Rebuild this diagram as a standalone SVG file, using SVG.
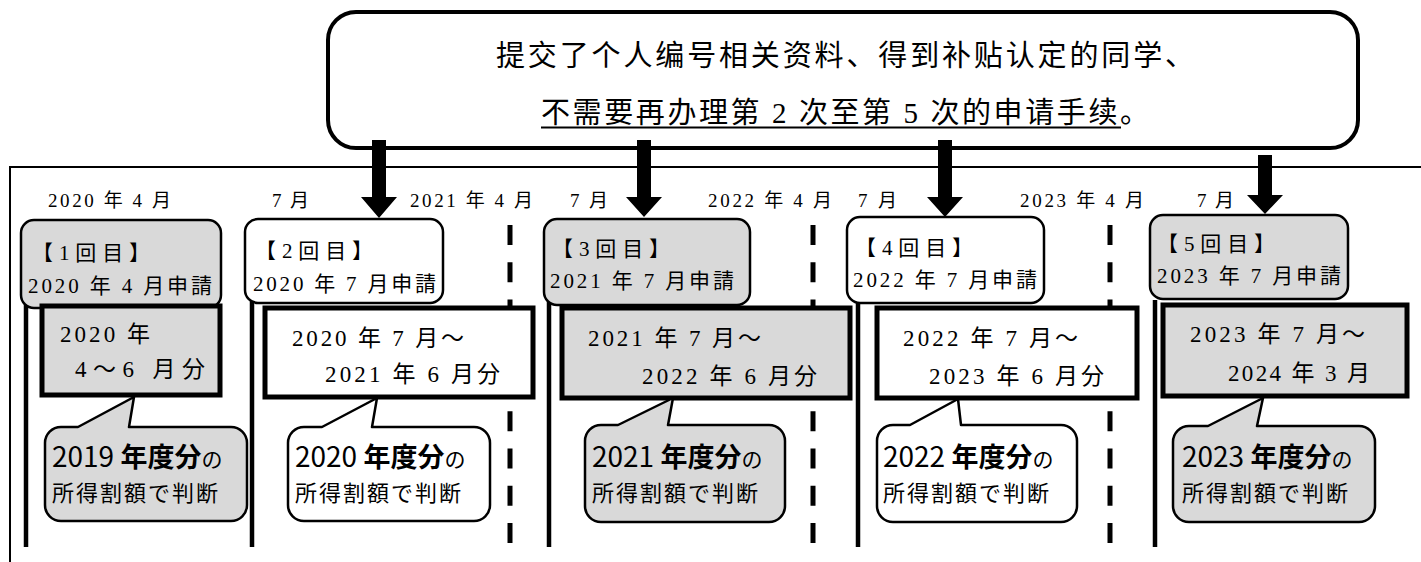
<svg xmlns="http://www.w3.org/2000/svg" width="1421" height="562" viewBox="0 0 1421 562">
<style>
.bg{fill:#ffffff}
.frame{fill:none;stroke:#000;stroke-width:2}
.solid{stroke:#000;stroke-width:4.5}
.dash{stroke:#000;stroke-width:5;stroke-dasharray:20 17.25}
.callout{fill:#fff;stroke:#000;stroke-width:4}
.arrow{fill:#000;stroke:none}
.app{stroke:#000;stroke-width:2.5}
.per{stroke:#000;stroke-width:5}
.bub{stroke:#000;stroke-width:2.5;stroke-linejoin:round}
.gray{fill:#d9d9d9}
.white{fill:#ffffff}
text{fill:#000}
.m{font-family:"Liberation Serif","Noto Sans CJK JP",serif;font-size:19px}
.t{font-family:"Liberation Serif","Noto Sans CJK JP",serif;font-size:21px}
.p{font-family:"Liberation Serif","Noto Sans CJK JP",serif;font-size:23px}
.c{font-family:"Liberation Serif","Noto Sans CJK SC",serif;font-size:29px}
.yr{font-family:"Noto Sans CJK JP","Liberation Sans",sans-serif;font-size:28px}
.bd{font-family:"Noto Sans CJK JP",sans-serif;font-size:27px;font-weight:bold}
.no{font-family:"Noto Sans CJK JP",sans-serif;font-size:21px}
.jd{font-family:"Noto Sans CJK JP",sans-serif;font-size:22px}
</style>
<rect class="bg" x="0" y="0" width="1421" height="562"/>

<g id="timeline">
  <path class="frame" d="M10,562 V167 H1421"/>
  <line class="dash" x1="510" y1="225" x2="510" y2="545"/>
  <line class="dash" x1="813" y1="225" x2="813" y2="545"/>
  <line class="dash" x1="1110" y1="225" x2="1110" y2="545"/>
  <line class="solid" x1="26" y1="300" x2="26" y2="547"/>
  <line class="solid" x1="252" y1="300" x2="252" y2="547"/>
  <line class="solid" x1="549" y1="300" x2="549" y2="547"/>
  <line class="solid" x1="858" y1="300" x2="858" y2="547"/>
  <line class="solid" x1="1155" y1="300" x2="1155" y2="547"/>
</g>

<g id="month-labels">
  <text class="m" x="48" y="207" textLength="123" lengthAdjust="spacing">2020 年 4 月</text>
  <text class="m" x="272" y="207" textLength="37" lengthAdjust="spacing">7 月</text>
  <text class="m" x="410" y="207" textLength="123" lengthAdjust="spacing">2021 年 4 月</text>
  <text class="m" x="570" y="207" textLength="38" lengthAdjust="spacing">7 月</text>
  <text class="m" x="708" y="207" textLength="124" lengthAdjust="spacing">2022 年 4 月</text>
  <text class="m" x="858" y="207" textLength="39" lengthAdjust="spacing">7 月</text>
  <text class="m" x="1020" y="207" textLength="124" lengthAdjust="spacing">2023 年 4 月</text>
  <text class="m" x="1197" y="207" textLength="37" lengthAdjust="spacing">7 月</text>
</g>

<g id="note">
  <rect class="callout" x="328" y="12" width="1030" height="136" rx="28" ry="28"/>
  <text class="c" x="496" y="66" textLength="698" lengthAdjust="spacing">提交了个人编号相关资料、得到补贴认定的同学、</text>
  <text class="c" x="541" y="123" textLength="608" lengthAdjust="spacing">不需要再办理第 2 次至第 5 次的申请手续。</text>
  <line x1="541" y1="127.5" x2="1121" y2="127.5" stroke="#000" stroke-width="2"/>
</g>

<g id="connectors">
  <path class="arrow" d="M372,140 H386 V197 H397 L379,218 L361,197 H372 Z"/>
  <path class="arrow" d="M637,140 H651 V197 H662 L644,217 L626,197 H637 Z"/>
  <path class="arrow" d="M938,140 H952 V197 H963 L945,217 L927,197 H938 Z"/>
  <path class="arrow" d="M1258,155 H1272 V195 H1283 L1265,214 L1247,195 H1258 Z"/>
</g>

<g id="app1">
  <rect class="app gray" x="21" y="220" width="200" height="88" rx="13"/>
  <text class="t" x="32" y="260" textLength="118" lengthAdjust="spacing">【1回目】</text>
  <text class="t" x="28" y="293" textLength="184" lengthAdjust="spacing">2020 年 4 月申請</text>
</g>
<g id="app2">
  <rect class="app white" x="245" y="219" width="198" height="84" rx="13"/>
  <text class="t" x="255" y="258" textLength="118" lengthAdjust="spacing">【2回目】</text>
  <text class="t" x="253" y="291" textLength="183" lengthAdjust="spacing">2020 年 7 月申請</text>
</g>
<g id="app3">
  <rect class="app gray" x="544" y="219" width="206" height="86" rx="13"/>
  <text class="t" x="552" y="256" textLength="118" lengthAdjust="spacing">【3回目】</text>
  <text class="t" x="550" y="288" textLength="184" lengthAdjust="spacing">2021 年 7 月申請</text>
</g>
<g id="app4">
  <rect class="app white" x="847" y="217" width="197" height="86" rx="13"/>
  <text class="t" x="855" y="255" textLength="118" lengthAdjust="spacing">【4回目】</text>
  <text class="t" x="853" y="287" textLength="184" lengthAdjust="spacing">2022 年 7 月申請</text>
</g>
<g id="app5">
  <rect class="app gray" x="1150" y="215" width="198" height="84" rx="13"/>
  <text class="t" x="1157" y="251" textLength="118" lengthAdjust="spacing">【5回目】</text>
  <text class="t" x="1157" y="283" textLength="184" lengthAdjust="spacing">2023 年 7 月申請</text>
</g>

<g id="period1">
  <rect class="per gray" x="42" y="306" width="178" height="89"/>
  <text class="p" x="60" y="342" textLength="90" lengthAdjust="spacing">2020 年</text>
  <text class="p" x="75" y="377" textLength="130" lengthAdjust="spacing">4～6 月分</text>
</g>
<g id="period2">
  <rect class="per white" x="265" y="308" width="268" height="89"/>
  <text class="p" x="292" y="346" textLength="172" lengthAdjust="spacing">2020 年 7 月～</text>
  <text class="p" x="325" y="382" textLength="175" lengthAdjust="spacing">2021 年 6 月分</text>
</g>
<g id="period3">
  <rect class="per gray" x="562" y="308" width="288" height="90"/>
  <text class="p" x="588" y="346" textLength="173" lengthAdjust="spacing">2021 年 7 月～</text>
  <text class="p" x="642" y="384" textLength="175" lengthAdjust="spacing">2022 年 6 月分</text>
</g>
<g id="period4">
  <rect class="per white" x="877" y="308" width="260" height="90"/>
  <text class="p" x="903" y="346" textLength="175" lengthAdjust="spacing">2022 年 7 月～</text>
  <text class="p" x="929" y="384" textLength="175" lengthAdjust="spacing">2023 年 6 月分</text>
</g>
<g id="period5">
  <rect class="per gray" x="1163" y="305" width="244" height="91"/>
  <text class="p" x="1190" y="342" textLength="175" lengthAdjust="spacing">2023 年 7 月～</text>
  <text class="p" x="1228" y="381" textLength="142" lengthAdjust="spacing">2024 年 3 月</text>
</g>

<g id="bubble1">
  <path class="bub gray" d="M61,427 H78 L134,397 L129,427 H231 A16,16 0 0 1 247,443 V505 A16,16 0 0 1 231,521 H61 A16,16 0 0 1 45,505 V443 A16,16 0 0 1 61,427 Z"/>
  <text x="52" y="467"><tspan class="yr">2019 </tspan><tspan class="bd">年度分</tspan><tspan class="no">の</tspan></text>
  <text class="jd" x="52" y="501" textLength="166" lengthAdjust="spacing">所得割額で判断</text>
</g>
<g id="bubble2">
  <path class="bub white" d="M304,427 H322 L377,398 L372,427 H474 A16,16 0 0 1 490,443 V505 A16,16 0 0 1 474,521 H304 A16,16 0 0 1 288,505 V443 A16,16 0 0 1 304,427 Z"/>
  <text x="295" y="467"><tspan class="yr">2020 </tspan><tspan class="bd">年度分</tspan><tspan class="no">の</tspan></text>
  <text class="jd" x="295" y="501" textLength="166" lengthAdjust="spacing">所得割額で判断</text>
</g>
<g id="bubble3">
  <path class="bub gray" d="M601,425 H618 L673,398 L668,425 H769 A16,16 0 0 1 785,441 V506 A16,16 0 0 1 769,522 H601 A16,16 0 0 1 585,506 V441 A16,16 0 0 1 601,425 Z"/>
  <text x="592" y="467"><tspan class="yr">2021 </tspan><tspan class="bd">年度分</tspan><tspan class="no">の</tspan></text>
  <text class="jd" x="592" y="501" textLength="166" lengthAdjust="spacing">所得割額で判断</text>
</g>
<g id="bubble4">
  <path class="bub white" d="M893,425 H910 L958,399 L961,425 H1061 A16,16 0 0 1 1077,441 V506 A16,16 0 0 1 1061,522 H893 A16,16 0 0 1 877,506 V441 A16,16 0 0 1 893,425 Z"/>
  <text x="883" y="467"><tspan class="yr">2022 </tspan><tspan class="bd">年度分</tspan><tspan class="no">の</tspan></text>
  <text class="jd" x="883" y="501" textLength="166" lengthAdjust="spacing">所得割額で判断</text>
</g>
<g id="bubble5">
  <path class="bub gray" d="M1189,426 H1208 L1263,398 L1257,426 H1359 A16,16 0 0 1 1375,442 V506 A16,16 0 0 1 1359,522 H1189 A16,16 0 0 1 1173,506 V442 A16,16 0 0 1 1189,426 Z"/>
  <text x="1182" y="467"><tspan class="yr">2023 </tspan><tspan class="bd">年度分</tspan><tspan class="no">の</tspan></text>
  <text class="jd" x="1182" y="501" textLength="166" lengthAdjust="spacing">所得割額で判断</text>
</g>
</svg>
